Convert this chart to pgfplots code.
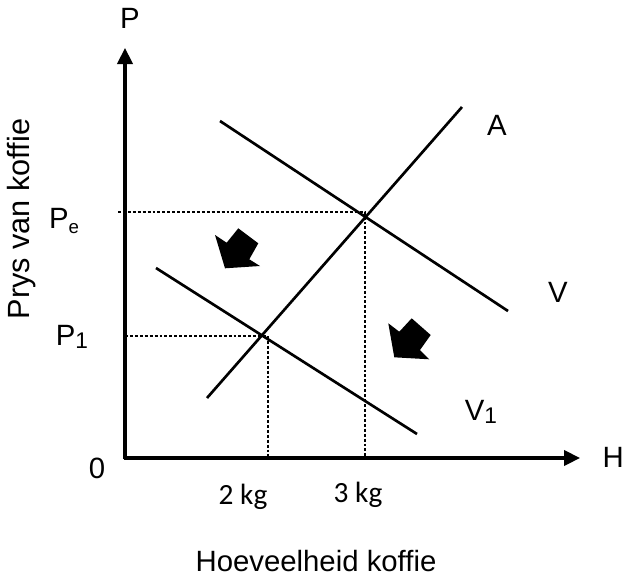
\documentclass[border=0pt]{standalone}
\usepackage{fontspec}
\setmainfont{Liberation Sans}
\newfontfamily\calib{Carlito}
\usepackage{pgfplots}
\pgfplotsset{compat=1.18}
\usetikzlibrary{arrows.meta}
\begin{document}
\begin{tikzpicture}
\fontsize{22}{25}\selectfont
\begin{axis}[x=0.75pt,y=0.75pt,y dir=reverse,xmin=0,xmax=626,ymin=0,ymax=576,
  hide axis,clip=false,scale only axis]
\addplot[draw=none] coordinates {(0,0) (626,576)};
% dashed guides
\addplot[black,line width=0.8pt,dash pattern=on 2.2pt off 1.5pt] coordinates {(118,212) (365,212) (365,458)};
\addplot[black,line width=0.8pt,dash pattern=on 2.2pt off 1.5pt] coordinates {(125,336) (268,336) (268,458)};
% axes
\addplot[black,line width=2.3pt,-{Triangle[length=12pt,width=11.5pt]}] coordinates {(125,459) (125,48)};
\addplot[black,line width=2.3pt,-{Triangle[length=12pt,width=11.5pt]}] coordinates {(124,458) (580,458)};
% curves
\addplot[black,line width=2pt] coordinates {(207,398) (462,107)};
\addplot[black,line width=2pt] coordinates {(220,121) (508,311)};
\addplot[black,line width=2pt] coordinates {(156,268) (417,434)};
% shift arrows
\addplot[black,fill=black,draw=none] coordinates {(215,235) (226.7,242.7) (238.3,228.3) (258.3,243.3) (249.3,259.3) (260,266) (225,268.3)} -- cycle;
\addplot[black,fill=black,draw=none] coordinates {(388.3,323.3) (399.3,331.7) (411.7,318.3) (430.7,335) (420,350) (429.3,359.3) (394.3,357.3)} -- cycle;
% labels
\node at (axis cs:130,18) {P};
\node[anchor=east,inner sep=0pt] at (axis cs:624,457) {H};
\node at (axis cs:97,468) {0};
\node at (axis cs:64,221) {P\raisebox{-0.35ex}{\fontsize{14}{14}\selectfont e}};
\node at (axis cs:72,337) {P\raisebox{-0.15ex}{\fontsize{17}{17}\selectfont 1}};
\node at (axis cs:497,125) {A};
\node at (axis cs:558,292) {V};
\node at (axis cs:481,412) {V\raisebox{-0.15ex}{\fontsize{17}{17}\selectfont 1}};
\node at (axis cs:243,497) {\calib 2 kg};
\node at (axis cs:358,495) {\calib 3 kg};
\node at (axis cs:316,561) {Hoeveelheid koffie};
\node[rotate=90] at (axis cs:22,219) {\fontsize{23}{26}\selectfont Prys van koffie};
\coordinate (ll) at (axis cs:0,576);
\coordinate (ur) at (axis cs:626,0);
\end{axis}
\pgfresetboundingbox
\path[use as bounding box] (ll) rectangle (ur);
\end{tikzpicture}
\end{document}
